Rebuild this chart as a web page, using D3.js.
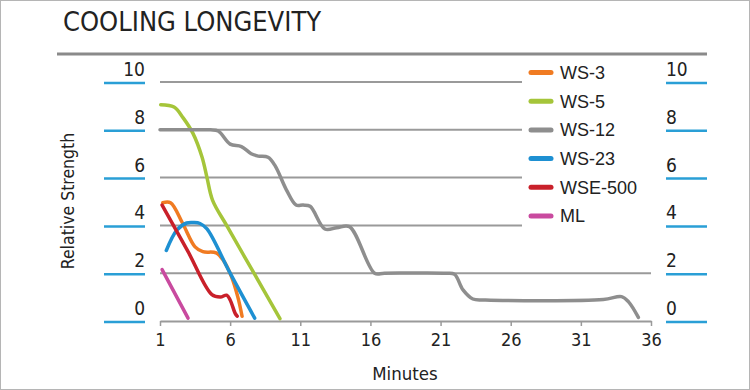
<!DOCTYPE html>
<html>
<head>
<meta charset="utf-8">
<title>Cooling Longevity</title>
<script src="https://d3js.org/d3.v7.min.js"></script>
<style>
  body { margin: 0; background: #fff; }
  svg { display: block; }
  .narrow { font-family: "DejaVu Sans Condensed", "Liberation Sans Narrow", sans-serif; fill: #222; }
  .leg { font-family: "Liberation Sans", Arial, sans-serif; font-size: 18px; fill: #222; }
</style>
</head>
<body>
<div id="chart"></div>
<script>
// chart data
var seriesNames = ["WS-3", "WS-5", "WS-12", "WS-23", "WSE-500", "ML"];
var seriesColors = ["#f07b22", "#a5c53a", "#8e8e8e", "#1e90d2", "#c9202a", "#c94a9f"];

// [minute, relative strength]
var ws3 = [[1.2, 4.95], [1.75, 4.95], [2.6, 4.1], [3.5, 3.1], [4.05, 2.9], [5.0, 2.85], [5.5, 2.55], [6.1, 1.85], [6.55, 1.0], [6.85, 0.2]];
var ws5 = [[1.05, 9.05], [2.0, 8.95], [2.65, 8.5], [3.35, 7.85], [4.0, 6.85], [4.35, 6.0], [4.75, 5.05], [5.8, 3.95], [7.7, 2.0], [9.55, 0.1]];
var ws12 = [[1, 8.0], [3.0, 8.0], [4.6, 8.0], [5.15, 7.95], [6.0, 7.4], [6.8, 7.3], [7.5, 7.0], [8.0, 6.9], [8.7, 6.85], [9.2, 6.5],
            [10.0, 5.5], [10.7, 4.85], [11.2, 4.85], [11.7, 4.8], [12.75, 3.85], [13.6, 3.9], [14.5, 3.95], [16.3, 2.0],
            [17.0, 2.0], [21.4, 2.0], [22.0, 1.95], [22.6, 1.3], [23.3, 0.92], [24.2, 0.88], [32.6, 0.9],
            [33.9, 1.02], [34.4, 0.8], [35.1, 0.15]];
var ws23 = [[1.45, 2.95], [2.2, 3.8], [2.9, 4.1], [3.4, 4.12], [3.85, 4.08], [4.35, 3.85], [6.0, 2.0], [7.75, 0.12]];
var wse500 = [[1.15, 4.85], [3.0, 2.9], [4.7, 1.1], [5.3, 1.0], [5.75, 1.08], [6.0, 0.88], [6.35, 0.33], [6.5, 0.2]];
var ml = [[1.15, 2.15], [3.0, 0.12]];
var seriesData = [ws3, ws5, ws12, ws23, wse500, ml];

var xTicks = [1, 6, 11, 16, 21, 26, 31, 36];
var yTicks = [0, 2, 4, 6, 8, 10];

var width = 750, height = 390;

var svg = d3.select("#chart").append("svg")
    .attr("width", width)
    .attr("height", height);

svg.append("rect")
    .attr("x", 0.5).attr("y", 0.5)
    .attr("width", width - 1).attr("height", height - 1)
    .attr("fill", "#fff").attr("stroke", "#b5b5b5");

var x = d3.scaleLinear().domain([1, 36]).range([160, 651]);
var y = d3.scaleLinear().domain([0, 10]).range([321, 82]);

// title + rule
svg.append("text").attr("class", "narrow")
    .attr("x", 63).attr("y", 31)
    .style("font-size", "27px")
    .text("COOLING LONGEVITY");

svg.append("line")
    .attr("x1", 57).attr("x2", 707).attr("y1", 54).attr("y2", 54)
    .attr("stroke", "#8a8a8a").attr("stroke-width", 3);

// grid lines (the upper ones stop short of the legend)
svg.append("g").selectAll("line")
    .data(yTicks.filter(function(d) { return d > 0; }))
    .join("line")
    .attr("x1", x(1))
    .attr("x2", function(d) { return d > 3 ? 522 : x(36); })
    .attr("y1", function(d) { return y(d); })
    .attr("y2", function(d) { return y(d); })
    .attr("stroke", "#9a9a9a").attr("stroke-width", 2);

// left / right value labels with blue dashes
[{dx0: 104, dx1: 145, tx: 145, anchor: "end"}, {dx0: 666, dx1: 707, tx: 666, anchor: "start"}].forEach(function(side) {
  var g = svg.append("g");
  g.selectAll("line").data(yTicks).join("line")
      .attr("x1", side.dx0).attr("x2", side.dx1)
      .attr("y1", function(d) { return y(d) + 1; })
      .attr("y2", function(d) { return y(d) + 1; })
      .attr("stroke", "#2a9fd6").attr("stroke-width", 2.5);
  g.selectAll("text").data(yTicks).join("text")
      .attr("class", "narrow")
      .attr("x", side.tx)
      .attr("y", function(d) { return y(d) - 6; })
      .attr("text-anchor", side.anchor)
      .style("font-size", "19px")
      .text(function(d) { return d; });
});

// x axis
var xAxis = svg.append("g")
    .attr("transform", "translate(0," + y(0) + ")")
    .call(d3.axisBottom(x).tickValues(xTicks).tickSize(5).tickPadding(7).tickSizeOuter(0));
xAxis.select(".domain").attr("stroke", "#9a9a9a").attr("stroke-width", 2);
xAxis.selectAll(".tick line").attr("stroke", "#9a9a9a").attr("stroke-width", 1.5);
xAxis.selectAll(".tick text")
    .attr("class", "narrow")
    .style("font-size", "18px")
    .attr("fill", "#222");

svg.append("text").attr("class", "narrow")
    .attr("x", 405).attr("y", 380)
    .attr("text-anchor", "middle")
    .style("font-size", "18.5px")
    .text("Minutes");

svg.append("text").attr("class", "narrow")
    .attr("transform", "translate(74,201) rotate(-90)")
    .attr("text-anchor", "middle")
    .style("font-size", "17.5px")
    .text("Relative Strength");

// series
var line = d3.line()
    .x(function(d) { return x(d[0]); })
    .y(function(d) { return y(d[1]); })
    .curve(d3.curveCatmullRom.alpha(0.5));

svg.append("g").selectAll("path")
    .data(seriesData)
    .join("path")
    .attr("d", line)
    .attr("fill", "none")
    .attr("stroke", function(d, i) { return seriesColors[i]; })
    .attr("stroke-width", 3.5)
    .attr("stroke-linejoin", "round")
    .attr("stroke-linecap", "round");

// legend
var leg = svg.append("g").selectAll("g")
    .data(seriesNames)
    .join("g")
    .attr("transform", function(d, i) { return "translate(530," + (72.5 + i * 28.7) + ")"; });
leg.append("line")
    .attr("x1", 1).attr("x2", 21)
    .attr("stroke", function(d, i) { return seriesColors[i]; })
    .attr("stroke-width", 5)
    .attr("stroke-linecap", "round");
leg.append("text").attr("class", "leg")
    .attr("x", 30).attr("dy", "0.35em")
    .text(function(d) { return d; });
</script>
</body>
</html>
